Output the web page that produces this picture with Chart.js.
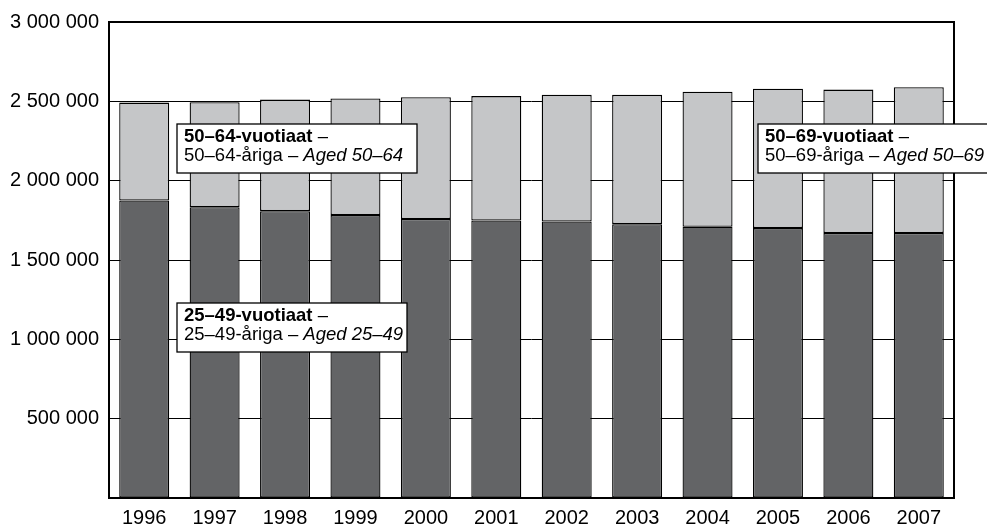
<!DOCTYPE html>
<html>
<head>
<meta charset="utf-8">
<script src="https://cdn.jsdelivr.net/npm/chart.js@4.4.0/dist/chart.umd.min.js"></script>
<style>
    html, body { margin: 0; padding: 0; background: #fff; }
</style>
</head>
<body>
<canvas id="populationChart" width="987" height="524"></canvas>
<script>
// Vuodet - år - years
const years = ['1996', '1997', '1998', '1999', '2000', '2001', '2002', '2003', '2004', '2005', '2006', '2007'];

// 25-49-vuotiaat
const aged2549 = [1875000, 1833000, 1808000, 1783000, 1758000, 1749000, 1743000, 1726000, 1710000, 1701000, 1670000, 1670000];

// 50-64-vuotiaat (2005- 50-69-vuotiaat)
const aged5064 = [617000, 662000, 703000, 735000, 768000, 784000, 798000, 815000, 850000, 879000, 904000, 919000];

// Akselin asteikko
const yMin = 0;
const yMax = 3000000;
const yStep = 500000;

const FONT = "'Liberation Sans', Arial, Helvetica, sans-serif";

// Selitelaatikot
const labelBoxes = [
    {
        x: 177, y: 124, w: 240, h: 49,
        lines: [
            [{ t: '50–64-vuotiaat', f: 'bold' }, { t: ' –', f: 'normal' }],
            [{ t: '50–64-åriga – ', f: 'normal' }, { t: 'Aged 50–64', f: 'italic' }]
        ]
    },
    {
        x: 758, y: 124, w: 240, h: 49,
        lines: [
            [{ t: '50–69-vuotiaat', f: 'bold' }, { t: ' –', f: 'normal' }],
            [{ t: '50–69-åriga – ', f: 'normal' }, { t: 'Aged 50–69', f: 'italic' }]
        ]
    },
    {
        x: 177, y: 303, w: 230, h: 49,
        lines: [
            [{ t: '25–49-vuotiaat', f: 'bold' }, { t: ' –', f: 'normal' }],
            [{ t: '25–49-åriga – ', f: 'normal' }, { t: 'Aged 25–49', f: 'italic' }]
        ]
    }
];

function formatNumber(v) {
    if (v === 0) return '';
    return String(v).replace(/\B(?=(\d{3})+(?!\d))/g, ' ');
}

// Kehys kuvaajan ympärille
const framePlugin = {
    id: 'frame',
    afterDatasetsDraw(chart) {
        const { ctx, chartArea } = chart;
        ctx.save();
        ctx.strokeStyle = '#000';
        ctx.lineWidth = 2;
        ctx.strokeRect(chartArea.left, chartArea.top, chartArea.right - chartArea.left, chartArea.bottom - chartArea.top);
        ctx.restore();
    }
};

// Tekstilaatikot
const boxPlugin = {
    id: 'labelBoxes',
    afterDraw(chart) {
        const ctx = chart.ctx;
        ctx.save();
        labelBoxes.forEach(box => {
            ctx.fillStyle = '#fff';
            ctx.fillRect(box.x, box.y, box.w, box.h);
            ctx.strokeStyle = '#000';
            ctx.lineWidth = 1.3;
            ctx.strokeRect(box.x, box.y, box.w, box.h);
            ctx.fillStyle = '#000';
            ctx.textBaseline = 'alphabetic';
            box.lines.forEach((line, i) => {
                let x = box.x + 7;
                const y = box.y + 18 + i * 18.5;
                line.forEach(seg => {
                    ctx.font = seg.f + ' 18.5px ' + FONT;
                    ctx.fillText(seg.t, x, y);
                    x += ctx.measureText(seg.t).width;
                });
            });
        });
        ctx.restore();
    }
};

const ctx = document.getElementById('populationChart').getContext('2d');
const populationChart = new Chart(ctx, {
    type: 'bar',
    data: {
        labels: years,
        datasets: [
            {
                label: '25–49',
                data: aged2549,
                backgroundColor: '#636466',
                borderColor: '#000',
                borderWidth: 1.3,
                borderSkipped: false,
                barPercentage: 0.71,
                categoryPercentage: 1.0
            },
            {
                label: '50–64 / 50–69',
                data: aged5064,
                backgroundColor: '#c5c6c8',
                borderColor: '#000',
                borderWidth: 1.3,
                borderSkipped: false,
                barPercentage: 0.71,
                categoryPercentage: 1.0
            }
        ]
    },
    options: {
        responsive: false,
        animation: false,
        layout: { padding: { top: 20, right: 33, left: 0, bottom: 0 } },
        plugins: {
            legend: { display: false },
            tooltip: { enabled: false }
        },
        scales: {
            x: {
                stacked: true,
                grid: { display: false },
                border: { display: false },
                ticks: {
                    color: '#000',
                    padding: 0,
                    font: { family: FONT, size: 20 }
                },
                afterFit(scale) { scale.height = 26; }
            },
            y: {
                stacked: true,
                min: yMin,
                max: yMax,
                grid: { color: '#000', lineWidth: 1, drawTicks: false },
                border: { display: false },
                ticks: {
                    stepSize: yStep,
                    color: '#000',
                    padding: 10,
                    font: { family: FONT, size: 20 },
                    callback: value => formatNumber(value)
                },
                afterFit(scale) { scale.width = 109; }
            }
        }
    },
    plugins: [framePlugin, boxPlugin]
});
</script>
</body>
</html>
